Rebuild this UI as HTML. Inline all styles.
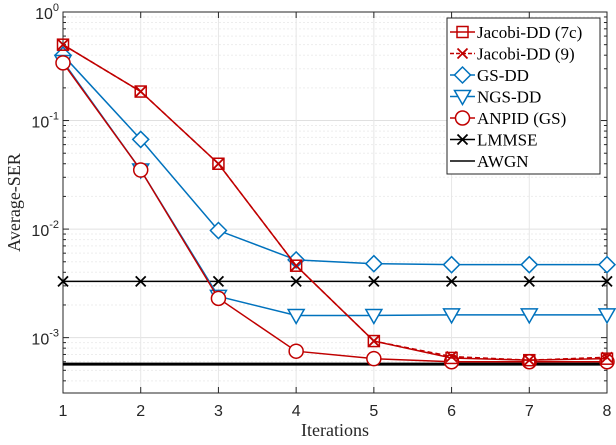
<!DOCTYPE html>
<html><head><meta charset="utf-8"><style>
body{margin:0;background:#fff}
svg{font-family:"Liberation Serif",serif}
.tk{font-family:"Liberation Sans",sans-serif;font-size:16px;fill:#262626}
</style></head><body>
<svg id="c" width="616" height="440" xmlns="http://www.w3.org/2000/svg"></svg>
<script>
const iterations=[1,2,3,4,5,6,7,8];
const jacobi7c=[0.5,0.185,0.04,0.0046,0.00093,0.00065,0.00062,0.00064];
const jacobi9=[0.5,0.185,0.04,0.0046,0.00093,0.00067,0.00062,0.00066];
const gsdd=[0.4,0.067,0.0097,0.0052,0.0048,0.0047,0.0047,0.0047];
const ngsdd=[0.35,0.035,0.0024,0.0016,0.0016,0.00162,0.00162,0.00162];
const anpid=[0.34,0.035,0.0023,0.00075,0.00064,0.0006,0.0006,0.0006];
const lmmse=[0.0033,0.0033,0.0033,0.0033,0.0033,0.0033,0.0033,0.0033];
const awgn=0.00057;
const yTickExp=[0,-1,-2,-3];

const L=63,R=607,T=12,B=393,yMin=-3.51,yMax=0;
const X=v=>L+(v-1)*(R-L)/7;
const Y=v=>T+(yMax-Math.log10(v))*(B-T)/(yMax-yMin);
const svg=document.getElementById('c');
const NS='http://www.w3.org/2000/svg';
function mk(tag,attrs,parent){const e=document.createElementNS(NS,tag);for(const k in attrs)e.setAttribute(k,attrs[k]);(parent||svg).appendChild(e);return e;}
const RED='#c00000',BLUE='#0072bd';

const grid=mk('g',{});


for(let e=-4;e<=0;e++){for(let m=1;m<10;m++){const v=m*Math.pow(10,e);const lg=Math.log10(v);if(lg<yMin||lg>yMax)continue;
 const y=Y(v);mk('line',{x1:L,x2:R,y1:y,y2:y,stroke:m==1?'#e0e0e0':'#ededed','stroke-width':1,'stroke-dasharray':m==1?'':'2,2'},grid);
 mk('line',{x1:L,x2:L+(m==1?6:3),y1:y,y2:y,stroke:'#262626'},grid);mk('line',{x1:R,x2:R-(m==1?6:3),y1:y,y2:y,stroke:'#262626'},grid);}}
iterations.forEach(i=>{const x=X(i);mk('line',{x1:x,x2:x,y1:T,y2:B,stroke:'#e6e6e6'},grid);
 mk('line',{x1:x,x2:x,y1:B,y2:B-6,stroke:'#262626'},grid);mk('line',{x1:x,x2:x,y1:T,y2:T+6,stroke:'#262626'},grid);
 const t=mk('text',{x:x,y:B+23,'text-anchor':'middle',class:'tk'});t.textContent=i;
 
 });
yTickExp.forEach(e=>{const y=Y(Math.pow(10,e));const t=mk('text',{x:L-4,y:y+7,'text-anchor':'end',class:'tk'});
 t.innerHTML='10<tspan dy="-8" font-size="11">'+e+'</tspan>';
 
 });
mk('rect',{x:L,y:T,width:R-L,height:B-T,fill:'none',stroke:'#262626','stroke-width':1});

function marker(type,x,y,col,g){
 if(type=='sq')mk('rect',{x:x-5.5,y:y-5.5,width:11,height:11,fill:'none',stroke:col,'stroke-width':1.5},g);
 if(type=='x')mk('path',{d:`M${x-5} ${y-5}L${x+5} ${y+5}M${x-5} ${y+5}L${x+5} ${y-5}`,stroke:col,'stroke-width':1.8},g);
 if(type=='di')mk('path',{d:`M${x} ${y-8}L${x+8} ${y}L${x} ${y+8}L${x-8} ${y}Z`,fill:'#fff',stroke:col,'stroke-width':1.5},g);
 if(type=='tri')mk('path',{d:`M${x-8} ${y-6}L${x+8} ${y-6}L${x} ${y+8}Z`,fill:'#fff',stroke:col,'stroke-width':1.5},g);
 if(type=='ci')mk('circle',{cx:x,cy:y,r:7,fill:'#fff',stroke:col,'stroke-width':1.5},g);
}
function series(name,data,col,type,dash){
 const g=mk('g',{});
 
 
 mk('polyline',{points:data.map((v,i)=>X(iterations[i])+','+Y(v)).join(' '),fill:'none',stroke:col,'stroke-width':1.5,'stroke-dasharray':dash||''},g);
 data.forEach((v,i)=>marker(type,X(iterations[i]),Y(v),col,g));
}
mk('line',{x1:L,x2:R,y1:Y(awgn),y2:Y(awgn),stroke:'#000','stroke-width':3});
series('series-lmmse',lmmse,'#000','x');
series('series-gs-dd',gsdd,BLUE,'di');
series('series-ngs-dd',ngsdd,BLUE,'tri');
series('series-anpid-gs',anpid,RED,'ci');
series('series-jacobi-dd-9',jacobi9,RED,'x','5,3');
series('series-jacobi-dd-7c',jacobi7c,RED,'sq');

const xt=mk('text',{x:(L+R)/2,y:436,'text-anchor':'middle','font-size':18,fill:'#262626'});xt.textContent='Iterations';


const yt=mk('text',{x:0,y:0,'text-anchor':'middle','font-size':18,fill:'#262626',transform:`translate(20,${(T+B)/2}) rotate(-90)`});yt.textContent='Average-SER';



const lg=mk('g',{});


mk('rect',{x:447,y:18,width:153,height:156,fill:'#fff',stroke:'#262626','stroke-width':1},lg);
const items=[['Jacobi-DD (7c)',RED,'sq',''],['Jacobi-DD (9)',RED,'x','4,2'],['GS-DD',BLUE,'di',''],['NGS-DD',BLUE,'tri',''],['ANPID (GS)',RED,'ci',''],['LMMSE','#000','x',''],['AWGN','#000','','']];
items.forEach((it,i)=>{const y=32+i*21.5;const e=mk('g',{},lg);
 
 
 mk('line',{x1:450,x2:475,y1:y,y2:y,stroke:it[1],'stroke-width':1.5,'stroke-dasharray':it[3]},e);
 if(it[2])marker(it[2],462.5,y,it[1],e);
 const t=mk('text',{x:477,y:y+6,'font-size':17,fill:'#000'},e);t.textContent=it[0];});
</script>
</body></html>
